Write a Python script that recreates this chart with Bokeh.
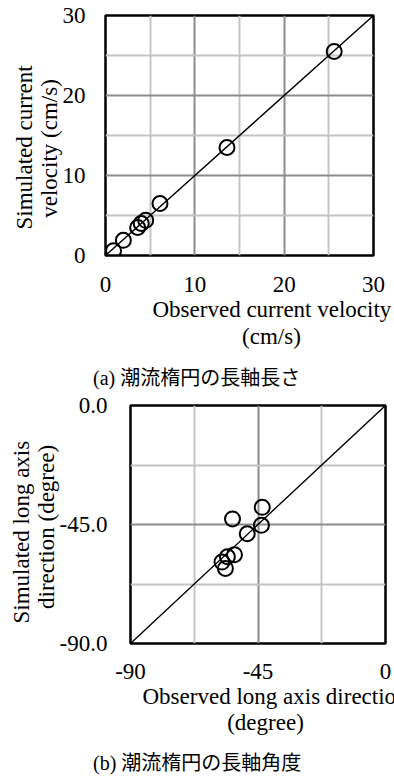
from bokeh.plotting import figure
from bokeh.layouts import column
from bokeh.models import FixedTicker, PrintfTickFormatter, Title, Div
from bokeh.embed import file_html
from bokeh.resources import INLINE

# ---- data (a): major axis length of tidal ellipse (cm/s)
obs_a = [0.9, 2.0, 3.6, 4.0, 4.5, 6.1, 13.6, 25.6]
sim_a = [0.6, 1.9, 3.5, 4.0, 4.4, 6.5, 13.5, 25.5]
ticks_a = [0, 10, 20, 30]
minor_a = [5, 15, 25]
one_to_one_a = [0, 30]

# ---- data (b): long axis direction (degree)
obs_b = [-43.5, -54.0, -43.8, -48.8, -53.3, -55.8, -57.7, -56.5]
sim_b = [-38.5, -42.9, -45.3, -48.5, -56.4, -57.2, -59.2, -61.6]
ticks_b = [-90, -45, 0]
minor_b = [-67.5, -22.5]
one_to_one_b = [-90, 0]

caption_a = "(a) 潮流楕円の長軸長さ"
caption_b = "(b) 潮流楕円の長軸角度"

SERIF = "Liberation Serif"
FS = "23px"
MAJOR_GRID = "#8c8c8c"
MINOR_GRID = "#c4c4c4"


def style(p, ticks, minor, xfmt, yfmt, ystand, xstand):
    p.outline_line_color = "black"
    p.outline_line_width = 2.5
    for ax in (p.xaxis[0], p.yaxis[0]):
        ax.axis_line_color = None
        ax.major_tick_line_color = None
        ax.minor_tick_line_color = None
        ax.major_tick_in = 0
        ax.major_tick_out = 0
        ax.minor_tick_in = 0
        ax.minor_tick_out = 0
        ax.major_label_text_font = SERIF
        ax.major_label_text_font_size = FS
        ax.major_label_text_color = "black"
        ax.ticker = FixedTicker(ticks=ticks, minor_ticks=minor)
    p.yaxis[0].major_label_standoff = ystand
    p.xaxis[0].major_label_standoff = xstand
    p.xaxis[0].formatter = PrintfTickFormatter(format=xfmt)
    p.yaxis[0].formatter = PrintfTickFormatter(format=yfmt)
    for g in (p.xgrid[0], p.ygrid[0]):
        g.grid_line_color = MAJOR_GRID
        g.grid_line_width = 2
        g.minor_grid_line_color = MINOR_GRID
        g.minor_grid_line_width = 2


def title(p, text, side, offset, standoff=0):
    p.add_layout(Title(text=text, align="left", offset=offset,
                       standoff=standoff, text_font=SERIF,
                       text_font_size=FS, text_font_style="normal",
                       text_color="black"), side)


def caption(text, height, top, line_h):
    html = ('<div style="margin-left:93px; margin-top:%dpx; '
            'font-family:\'Liberation Serif\', \'Noto Sans CJK JP\'; '
            'font-size:20px; line-height:%dpx; white-space:nowrap; '
            'color:black;">%s</div>' % (top, line_h, text))
    return Div(text=html, width=394, height=height, margin=0)


# ---------------- figure (a)
pa = figure(width=394, height=358, x_range=(0, 30), y_range=(0, 30),
            output_backend="svg", toolbar_location=None, frame_align=False,
            min_border_left=105, min_border_right=21,
            min_border_top=15, min_border_bottom=103)
style(pa, ticks_a, minor_a, "%d", "%d", 20, 21)
pa.line(one_to_one_a, one_to_one_a, line_color="black", line_width=1.4)
pa.scatter(obs_a, sim_a, size=15, fill_color=None, line_color="black",
           line_width=2)
title(pa, "velocity (cm/s)", "left", 37.7, standoff=-4)
title(pa, "Simulated current", "left", 26)
title(pa, "Observed current velocity", "below", 47)
title(pa, "(cm/s)", "below", 136.6)

cap_a = caption(caption_a, 34, 8, 24)

# ---------------- figure (b)
pb = figure(width=394, height=360, x_range=(-90, 0), y_range=(-90, 0),
            output_backend="svg", toolbar_location=None, frame_align=False,
            min_border_left=130, min_border_right=9,
            min_border_top=13, min_border_bottom=109)
style(pb, ticks_b, minor_b, "%d", "%.1f", 23, 20)
pb.line(one_to_one_b, one_to_one_b, line_color="black", line_width=1.4)
pb.scatter(obs_b, sim_b, size=15, fill_color=None, line_color="black",
           line_width=2)
title(pb, "direction (degree)", "left", 34.5, standoff=-4)
title(pb, "Simulated long axis", "left", 20)
title(pb, "Observed long axis direction", "below", 12)
title(pb, "(degree)", "below", 96.7, standoff=-2)

cap_b = caption(caption_b, 28, 0, 22)

layout = column(pa, cap_a, pb, cap_b, spacing=0)
open("out.html", "w").write(file_html(layout, INLINE))
